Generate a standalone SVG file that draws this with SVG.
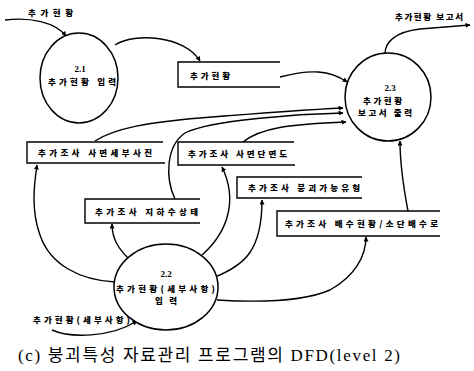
<svg xmlns="http://www.w3.org/2000/svg" width="474" height="371" viewBox="0 0 474 371">
<defs>
<marker id="ah" viewBox="0 0 10 10" refX="9" refY="5" markerWidth="5" markerHeight="5" orient="auto" markerUnits="userSpaceOnUse">
<path d="M0,0 L10,5 L0,10 z" fill="#000"/>
</marker>
<style>
.t{font-family:"Noto Sans CJK KR","Noto Sans",sans-serif;font-size:8.5px;font-weight:900;fill:#000}
.n{font-family:"Liberation Serif",serif;font-size:9px;font-weight:bold;fill:#000}
.p{fill:none;stroke:#000;stroke-width:1.4}
.s{fill:none;stroke:#000;stroke-width:1.4}
.c{fill:#fff;stroke:#000;stroke-width:1.5}
.cap{font-family:"Liberation Serif","Noto Sans CJK KR",serif;font-size:17px;fill:#000}
</style>
</defs>
<rect width="474" height="371" fill="#fff"/>

<g id="connectors">
<path class="p" d="M5,20 C30,17 55,22 66,36" marker-end="url(#ah)"/>
<path class="p" d="M115,45 C135,32 185,36 200,61" marker-end="url(#ah)"/>
<path class="p" d="M280,77 C310,69 330,70 347,82" marker-end="url(#ah)"/>
<path class="p" d="M385,54 C385,42 395,32 420,29 L470,25" marker-end="url(#ah)"/>
<path class="p" d="M95,141 C115,128 150,122 200,118 S300,110 343,108" marker-end="url(#ah)"/>
<path class="p" d="M175,199 C165,178 166,146 185,133 C210,120 300,114 343,113" marker-end="url(#ah)"/>
<path class="p" d="M243,142 C260,128 290,124 346,122" marker-end="url(#ah)"/>
<path class="p" d="M408,211 C404,190 400,165 400,141" marker-end="url(#ah)"/>
<path class="p" d="M115,282 C80,280 50,265 40,235 C31,210 34,185 37,165" marker-end="url(#ah)"/>
<path class="p" d="M128,258 C120,250 112,240 112,224" marker-end="url(#ah)"/>
<path class="p" d="M202,255 C228,232 238,200 222,167" marker-end="url(#ah)"/>
<path class="p" d="M215,277 C245,265 262,250 262,200" marker-end="url(#ah)"/>
<path class="p" d="M217,300 C250,302 300,303 330,290 C355,276 366,256 366,237" marker-end="url(#ah)"/>
<path class="p" d="M52,330 C70,338 110,338 137,321" marker-end="url(#ah)"/>
</g>

<g id="p21">
<ellipse class="c" cx="79" cy="78" rx="39" ry="45"/>
<text class="n" x="80" y="72" text-anchor="middle">2.1</text>
<text class="t" x="48" y="85" textLength="68" lengthAdjust="spacing">추가현황 입력</text>
</g>

<g id="p23">
<ellipse class="c" cx="388" cy="97" rx="43" ry="44"/>
<text class="n" x="390" y="91" text-anchor="middle">2.3</text>
<text class="t" x="363" y="104" textLength="39" lengthAdjust="spacing">추가현황</text>
<text class="t" x="358" y="116" textLength="54" lengthAdjust="spacing">보고서 출력</text>
</g>

<g id="p22">
<ellipse class="c" cx="166" cy="287" rx="52" ry="43"/>
<text class="n" x="166" y="277" text-anchor="middle">2.2</text>
<text class="t" x="116" y="292" textLength="99" lengthAdjust="spacing">추가현황(세부사항)</text>
<text class="t" x="155" y="304" textLength="22" lengthAdjust="spacing">입력</text>
</g>

<g id="ds_add">
<path class="s" d="M280,62 L178,62 L178,87 L280,87"/>
<text class="t" x="190" y="79" textLength="40" lengthAdjust="spacing">추가현황</text>
</g>

<g id="ds_photo">
<path class="s" d="M163,142 L27,142 L27,163 L165,163"/>
<text class="t" x="38" y="156" textLength="114" lengthAdjust="spacing">추가조사 사면세부사진</text>
</g>

<g id="ds_section">
<path class="s" d="M294,142 L178,142 L178,165 L295,165"/>
<text class="t" x="188" y="157" textLength="99" lengthAdjust="spacing">추가조사 사면단면도</text>
</g>

<g id="ds_ground">
<path class="s" d="M200,199 L85,199 L85,223 L200,223"/>
<text class="t" x="95" y="215" textLength="103" lengthAdjust="spacing">추가조사 지하수상태</text>
</g>

<g id="ds_collapse">
<path class="s" d="M362,177 L237,177 L237,198 L362,198"/>
<text class="t" x="248" y="191" textLength="112" lengthAdjust="spacing">추가조사 붕괴가능유형</text>
</g>

<g id="ds_drain">
<path class="s" d="M440,211 L277,211 L277,236 L440,236"/>
<text class="t" x="285" y="227" textLength="153" lengthAdjust="spacing">추가조사 배수현황/소단배수로</text>
</g>

<g id="labels">
<text class="t" x="28" y="16" textLength="45" lengthAdjust="spacing">추가현황</text>
<text class="t" x="395" y="20" textLength="68" lengthAdjust="spacing">추가현황 보고서</text>
<text class="t" x="33" y="323" textLength="97" lengthAdjust="spacing">추가현황(세부사항)</text>
</g>

<text class="cap" x="18" y="361" textLength="382" lengthAdjust="spacing">(c) 붕괴특성 자료관리 프로그램의 DFD(level 2)</text>
</svg>
